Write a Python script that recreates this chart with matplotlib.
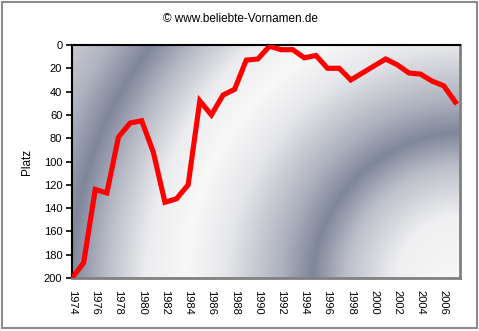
import numpy as np
import matplotlib
matplotlib.use("Agg")
from matplotlib import pyplot as plt
from matplotlib.patches import Rectangle

jahre = list(range(1974, 2008))
platz = [200, 187, 124, 127, 79, 67, 65, 92, 135, 132, 120, 48, 60, 43, 38, 13, 12, 1,
         4, 4, 11, 9, 20, 20, 30, 24, 18, 12, 17, 24, 25, 31, 35, 49]
y_ticks = list(range(0, 201, 20))
x_ticks = list(range(1974, 2007, 2))

plt.rcParams['font.family'] = ['Liberation Sans', 'DejaVu Sans']

fig = plt.figure(figsize=(4.79, 3.31), dpi=100)
ax = fig.add_axes([72 / 479, 1 - 278 / 331, 388 / 479, 233 / 331])

# radial shading behind the plot, centred near the lower right corner
h, w = 233, 388
yy, xx = np.mgrid[0:h, 0:w]
r = np.hypot(xx - 393, yy - 240)
stops_r = [0, 70, 120, 153, 185, 240, 280, 320, 362, 395, 430, 490]
stops_v = [1.0, 0.93, 0.5, 0.0, 0.38, 0.85, 1.0, 0.9, 0.45, 0.0, 0.4, 0.78]
v = np.interp(r, stops_r, stops_v)
dunkel = np.array([128, 134, 155]) / 255
hell = np.array([248, 248, 248]) / 255
img = dunkel + (hell - dunkel) * v[..., None]
ax.imshow(img, extent=[0, 1, 0, 1], transform=ax.transAxes, aspect='auto',
          origin='upper', zorder=0, interpolation='bilinear')

ax.plot(jahre, platz, color='#ff0000', lw=3.7, solid_joinstyle='miter', zorder=3)

ax.set_xlim(1974, 2007.4)
ax.set_ylim(200, 0)
ax.set_yticks(y_ticks)
ax.set_xticks(x_ticks)
ax.set_xticklabels([str(j) for j in x_ticks], rotation=270, fontsize=8)
ax.tick_params(axis='y', direction='out', length=4, width=1.2, labelsize=8, pad=3)
ax.tick_params(axis='x', length=0, pad=9)
for lab in ax.get_xticklabels():
    lab.set_va('top')
    lab.set_ha('center')
ax.set_ylabel('Platz', fontsize=8.5, labelpad=8)

ax.spines['left'].set_color('black')
ax.spines['left'].set_linewidth(1.5)
ax.spines['top'].set_color('black')
ax.spines['top'].set_linewidth(1.5)
ax.spines['right'].set_color('#808080')
ax.spines['right'].set_linewidth(2)
ax.spines['bottom'].set_color('#808080')
ax.spines['bottom'].set_linewidth(2)

fig.text(240 / 479, 1 - 19 / 331, '© www.beliebte-Vornamen.de', ha='center', va='center',
         fontsize=8.5)

fig.patches.append(Rectangle((1.5 / 479, 1 - 327.5 / 331), 475.5 / 479, 326 / 331,
                             transform=fig.transFigure, fill=False, edgecolor='#8c8c8c',
                             lw=1.5))

fig.savefig('out.png', dpi=100)
